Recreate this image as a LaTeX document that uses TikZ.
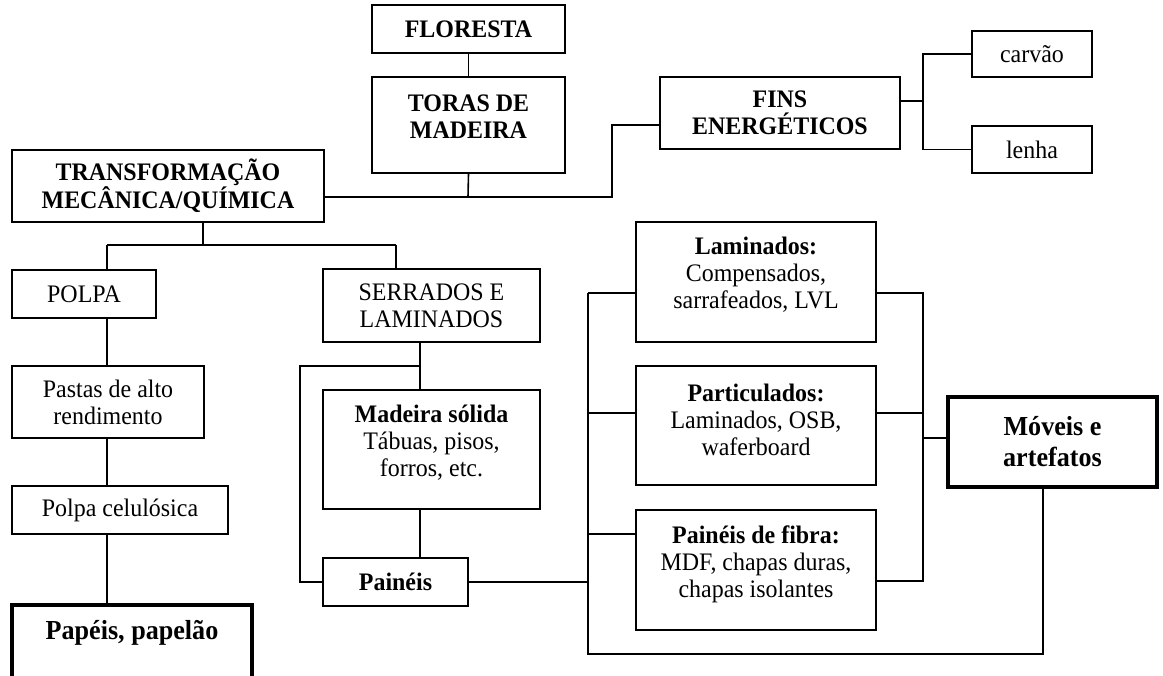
\documentclass[tikz,border=0pt]{standalone}
\usepackage{fontspec}
\setmainfont{Liberation Serif}[FakeStretch=0.95]
\newcommand\dtxt{\fontsize{25.2}{27}\selectfont}
\newcommand\btxt{\fontsize{27.5}{31}\selectfont\bfseries}
\begin{document}
\begin{tikzpicture}[x=1pt,y=-1pt,
  box/.style={draw, line width=1.6pt, inner sep=0pt, align=center, font=\dtxt},
  thickbox/.style={box, line width=3.2pt},
  conn/.style={line width=1.6pt},
  lbl/.style={align=center, font=\dtxt, inner sep=0pt}]
\useasboundingbox (0,0) rectangle (1163,676);
\fill[white] (0,0) rectangle (1163,676);
\clip (0,0) rectangle (1163,676);
% boxes
\node[box, minimum width=193pt, minimum height=48pt, font=\dtxt\bfseries] (flo) at (468.5,29) {FLORESTA};
\node[box, minimum width=193pt, minimum height=96pt] (tor) at (468.5,125) {};
\node[lbl, font=\dtxt\bfseries] (torT) at (468.5,117) {TORAS DE\\MADEIRA};
\node[box, minimum width=312pt, minimum height=72pt, font=\dtxt\bfseries] (tra) at (168,186) {TRANSFORMAÇÃO\\MECÂNICA/QUÍMICA};
\node[box, minimum width=240pt, minimum height=72pt, font=\dtxt\bfseries] (fin) at (780,113) {FINS\\ENERGÉTICOS};
\node[box, minimum width=120pt, minimum height=46pt] (car) at (1032,54) {carvão};
\node[box, minimum width=120pt, minimum height=47pt] (len) at (1032,149.5) {lenha};
\node[box, minimum width=144pt, minimum height=48pt] (pol) at (84,294) {POLPA};
\node[box, line width=1.1pt, minimum width=192pt, minimum height=72pt] (pas) at (108,402) {Pastas de alto\\rendimento};
\node[box, minimum width=216pt, minimum height=48pt] (pce) at (120,510) {Polpa celulósica};
\node[thickbox, minimum width=240pt, minimum height=85pt] (pap) at (132,647.5) {};
\node[lbl, font=\btxt] (papT) at (132,633) {Papéis, papelão};
\node[box, minimum width=217pt, minimum height=73pt] (ser) at (431.5,305.5) {SERRADOS E\\LAMINADOS};
\node[box, minimum width=217pt, minimum height=119pt] (mad) at (431.5,449.5) {};
\node[lbl] (madT) at (431.5,443) {\textbf{Madeira sólida}\\Tábuas, pisos,\\forros, etc.};
\node[box, minimum width=145pt, minimum height=48pt, font=\dtxt\bfseries] (pai) at (395.5,582) {Painéis};
\node[box, minimum width=240pt, minimum height=120pt] (lam) at (756,282) {};
\node[lbl] (lamT) at (756,275) {\textbf{Laminados:}\\Compensados,\\sarrafeados, LVL};
\node[box, minimum width=240pt, minimum height=119pt] (par) at (756,425.5) {};
\node[lbl] (parT) at (756,420) {\textbf{Particulados:}\\Laminados, OSB,\\waferboard};
\node[box, minimum width=240pt, minimum height=120pt] (fib) at (756,570) {};
\node[lbl] (fibT) at (756,564) {\textbf{Painéis de fibra:}\\MDF, chapas duras,\\chapas isolantes};
\node[thickbox, minimum width=209pt, minimum height=90pt, font=\btxt] (mov) at (1052.5,442) {Móveis e\\artefatos};
% coordinates
\coordinate (jt) at (468,197);
\coordinate (e1) at (612,197);
\coordinate (e2) at (612,125);
\coordinate (fj) at (923,101);
\coordinate (tb) at (203,245);
\coordinate (pl) at (107,245);
\coordinate (sr) at (396,245);
\coordinate (sx) at (420,366);
\coordinate (sl1) at (300,366);
\coordinate (sl2) at (300,582);
\coordinate (bt) at (588,293);
\coordinate (b2) at (588,413);
\coordinate (b3) at (588,534);
\coordinate (bb) at (588,654);
\coordinate (mb) at (1043,654);
\coordinate (r1) at (923,293);
\coordinate (r2) at (923,413);
\coordinate (r3) at (923,581);
\coordinate (rm) at (923,438);
% connectors
\draw[conn] (flo) -- (tor);
\draw[conn] (tor.south) -- (jt);
\draw[conn] (tra.east |- jt) -- (e1) -- (e2) -- (e2 -| fin.west);
\draw[conn] (fin.east |- fj) -- (fj);
\draw[conn] (car.west) -| (fj);
\draw[conn] (len.west) -| (fj);
\draw[conn] (tra.south -| tb) -- (tb);
\draw[conn] (pl) -- (sr);
\draw[conn] (pl) -- (pol.north -| pl);
\draw[conn] (sr) -- (ser.north -| sr);
\draw[conn] (pol.south -| pl) -- (pas.north -| pl);
\draw[conn] (pas.south -| pl) -- (pce.north -| pl);
\draw[conn] (pce.south -| pl) -- (pap.north -| pl);
\draw[conn] (ser.south -| sx) -- (mad.north -| sx);
\draw[conn] (sx) -- (sl1) -- (sl2) -- (pai.west);
\draw[conn] (mad.south -| sx) -- (pai.north -| sx);
\draw[conn] (pai.east) -- (pai.east -| bt);
\draw[conn] (bt) -- (bb) -- (mb) -- (mov.south -| mb);
\draw[conn] (bt) -- (bt -| lam.west);
\draw[conn] (b2) -- (b2 -| par.west);
\draw[conn] (b3) -- (b3 -| fib.west);
\draw[conn] (r1 -| lam.east) -- (r1) -- (r3) -- (r3 -| fib.east);
\draw[conn] (r2 -| par.east) -- (r2);
\draw[conn] (rm) -- (rm -| mov.west);
\end{tikzpicture}
\end{document}
